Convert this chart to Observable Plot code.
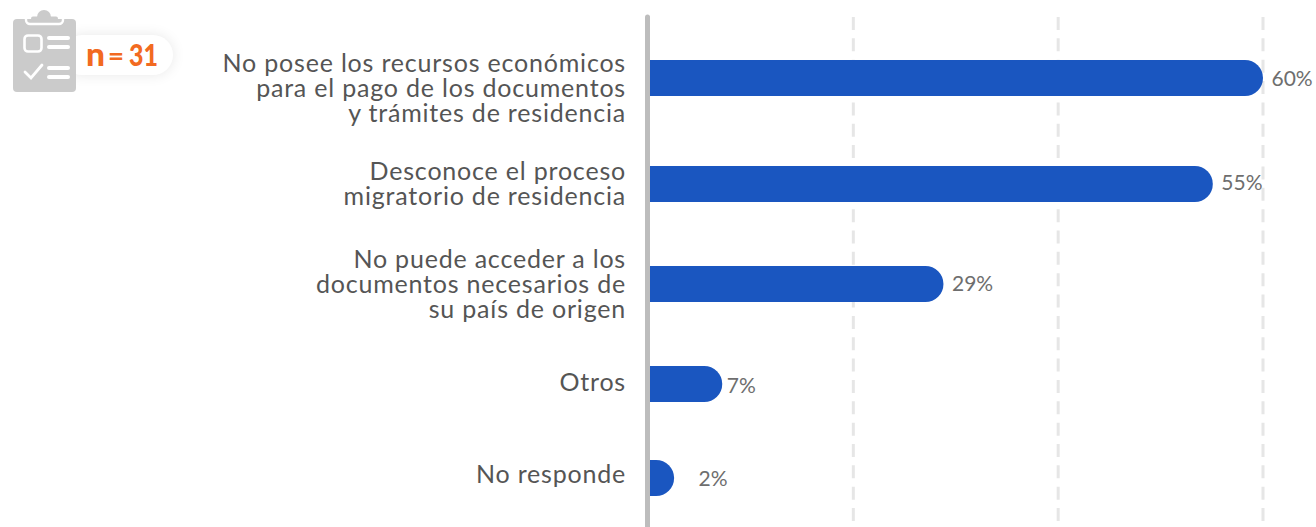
<!DOCTYPE html>
<html><head><meta charset="utf-8">
<script src="https://cdn.jsdelivr.net/npm/d3@7"></script>
<script src="https://cdn.jsdelivr.net/npm/@observablehq/plot@0.6"></script>
<style>
html,body{margin:0;padding:0;background:#fff;overflow:hidden}
#wrap{position:relative;width:1316px;height:527px}
#badge{position:absolute;left:0;top:0}
.cat text{letter-spacing:0.8px}
</style></head><body>
<div id="wrap"><div id="chart"></div>
<svg id="badge" width="200" height="110" viewBox="0 0 200 110">
<defs><filter id="s" x="-30%" y="-60%" width="160%" height="220%"><feGaussianBlur stdDeviation="7"/></filter></defs>
<rect x="62" y="35" width="111" height="40" rx="20" fill="#000" opacity="0.09" filter="url(#s)"/>
<rect x="62" y="35" width="111" height="40" rx="20" fill="#fff"/>
<rect x="13" y="19" width="63" height="73" rx="4" fill="#cbcbcb"/>
<circle cx="44" cy="17" r="7" fill="#cbcbcb"/>
<rect x="31" y="16.5" width="27" height="5" rx="2" fill="#cbcbcb"/>
<path d="M26 18V20a4 4 0 0 0 4 4H59a4 4 0 0 0 4-4V18" fill="none" stroke="#fff" stroke-width="2.4"/>
<rect x="24.5" y="35.5" width="17" height="16" rx="3.5" fill="none" stroke="#fff" stroke-width="2.6"/>
<path d="M49 38H68M49 47H68M49 68H68M49 77H68" stroke="#fff" stroke-width="4" stroke-linecap="round"/>
<path d="M25 72L31 78L42 65" fill="none" stroke="#fff" stroke-width="2.8" stroke-linecap="round"/>
<text x="86" y="66" font-family="Lato" font-weight="900" font-size="33" fill="#f26a21" textLength="19" lengthAdjust="spacingAndGlyphs">n</text>
<text x="108" y="65" font-family="Lato" font-weight="900" font-size="25" fill="#f26a21" textLength="16" lengthAdjust="spacingAndGlyphs">=</text>
<text x="129" y="66" font-family="Lato" font-weight="900" font-size="30" fill="#f26a21" textLength="29" lengthAdjust="spacingAndGlyphs">31</text>
</svg></div>
<script>
const categories = [
  "No posee los recursos económicos\npara el pago de los documentos\ny trámites de residencia",
  "Desconoce el proceso\nmigratorio de residencia",
  "No puede acceder a los\ndocumentos necesarios de\nsu país de origen",
  "Otros",
  "No responde"
];
const values = [60, 55.1, 28.8, 7.2, 2.5];
const valueLabels = ["60%", "55%", "29%", "7%", "2%"];
const gridTicks = [20, 40, 60];

const barDy = [0, 6, 6, 6, 0];
const catDy = [10, 6, 6, 4, -4];
const valDy = [1, 5, 6, 8, 1];
const valDx = [8, 8, 8, 4, 24];
const font = "Lato, sans-serif";

const table = categories.map((c, i) => ({c, v: values[i], label: valueLabels[i], i}));

const marks = [
  Plot.ruleX(gridTicks, {dx: -0.5, stroke: "#e6e6e6", strokeWidth: 3, strokeDasharray: "13 8.35"})
];
for (const d of table) {
  marks.push(
    Plot.barX([d], {x: "v", y: "c", dy: barDy[d.i], fill: "#1a56c0", r: 0, rx2: 18}),
    Plot.text([d], {x: 0, y: "c", text: "c", dy: catDy[d.i], dx: -23, textAnchor: "end", lineAnchor: "middle",
      lineHeight: 1, fontSize: 25, fontFamily: font, fill: "#555555", className: "cat"}),
    Plot.text([d], {x: "v", y: "c", text: "label", dy: valDy[d.i], dx: valDx[d.i], textAnchor: "start", lineAnchor: "middle",
      fontSize: 21, fontFamily: font, fill: "#6e6e6e"})
  );
}
marks.push(Plot.ruleX([0], {dx: -1.5, stroke: "#bdbdbd", strokeWidth: 5, strokeLinecap: "round", insetBottom: -12}));

const chart = Plot.plot({
  width: 1316, height: 527,
  marginTop: 17, marginBottom: 6, marginLeft: 0, marginRight: 0,
  style: {background: "#fff", overflow: "hidden"},
  x: {domain: [0, 60], range: [648.5, 1263], axis: null},
  y: {type: "band", domain: categories, range: [60, 496], paddingInner: 0.64, paddingOuter: 0, round: false, axis: null},
  marks
});
document.getElementById("chart").appendChild(chart);
</script></body></html>
